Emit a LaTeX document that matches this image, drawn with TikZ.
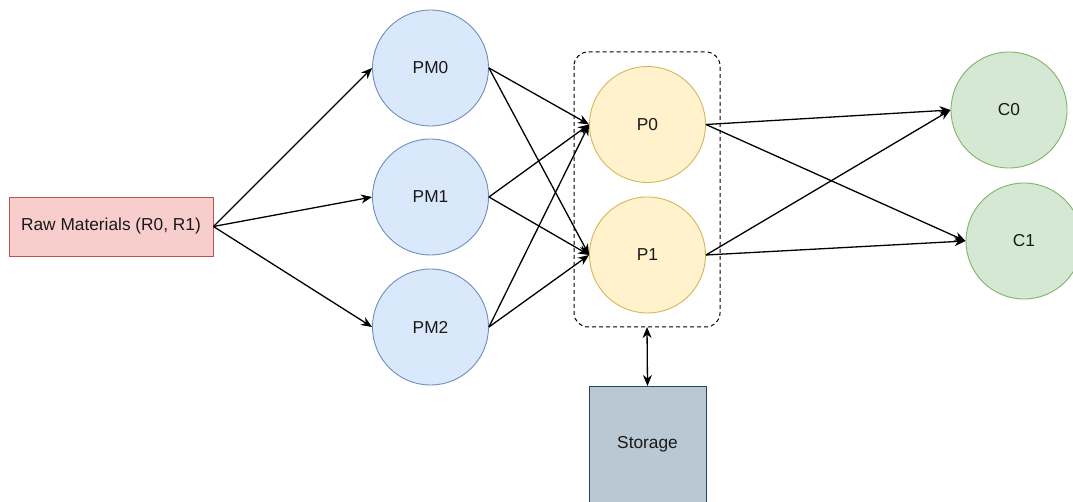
\documentclass[tikz,border=0pt]{standalone}
\usepackage{fontspec}
\setmainfont{Liberation Sans}
\usetikzlibrary{arrows.meta}
\definecolor{pmfill}{HTML}{DAE8FC}\definecolor{pmline}{HTML}{6C8EBF}
\definecolor{pfill}{HTML}{FFF2CC}\definecolor{pline}{HTML}{D6B656}
\definecolor{cfill}{HTML}{D5E8D4}\definecolor{cline}{HTML}{82B366}
\definecolor{rfill}{HTML}{F8CECC}\definecolor{rline}{HTML}{B85450}
\definecolor{sfill}{HTML}{BAC8D3}\definecolor{sline}{HTML}{23445D}
\begin{document}
\begin{tikzpicture}[x=1pt,y=-1pt,
  every node/.style={font=\fontsize{17.3}{20}\selectfont, text=black!90, inner sep=0pt},
  proc/.style={circle, minimum size=116pt, line width=0.9pt},
  pm/.style={proc, draw=pmline, fill=pmfill},
  pp/.style={proc, draw=pline, fill=pfill},
  cc/.style={proc, draw=cline, fill=cfill},
  tip/.tip={Stealth[length=11pt,width=9pt,inset=3.5pt]},
  flow/.style={line width=1.3pt, -tip},
  both/.style={line width=1.3pt, tip-tip}]
\useasboundingbox[fill=white] (0,0) rectangle (1073,502);

% supplier
\node[draw=rline, fill=rfill, line width=0.9pt, minimum width=204pt, minimum height=59pt] (raw) at (111,226.5) {Raw Materials (R0, R1)};

% preprocessing machines
\node[pm] (pm0) at (430.5,68) {PM0};
\node[pm] (pm1) at (430.5,197) {PM1};
\node[pm] (pm2) at (430.5,327) {PM2};

% production group
\draw[line width=1pt, dash pattern=on 4pt off 3pt, rounded corners=14pt] (574,52) rectangle (720,327);
\coordinate (grp) at (647,327);
\node[pp] (p0) at (647.5,124.5) {P0};
\node[pp] (p1) at (647.5,255) {P1};

% consumers
\node[cc] (c0) at (1009,110) {C0};
\node[cc] (c1) at (1024,241) {C1};

% storage
\node[draw=sline, fill=sfill, line width=0.9pt, minimum width=117pt, minimum height=120pt, anchor=north] (st) at (647.5,386) {};
\node at (647.5,444) {Storage};

% connectors
\foreach \m in {pm0,pm1,pm2} \draw[flow] (raw.east) -- (\m.west);
\foreach \m in {pm0,pm1,pm2} {
  \draw[flow] (\m.east) -- (p0.west);
  \draw[flow] (\m.east) -- (p1.west);
}
\foreach \p in {p0,p1} {
  \draw[flow] (\p.east) -- (c0.west);
  \draw[flow] (\p.east) -- (c1.west);
}
\draw[both] (grp) -- (st.north);
\end{tikzpicture}
\end{document}
